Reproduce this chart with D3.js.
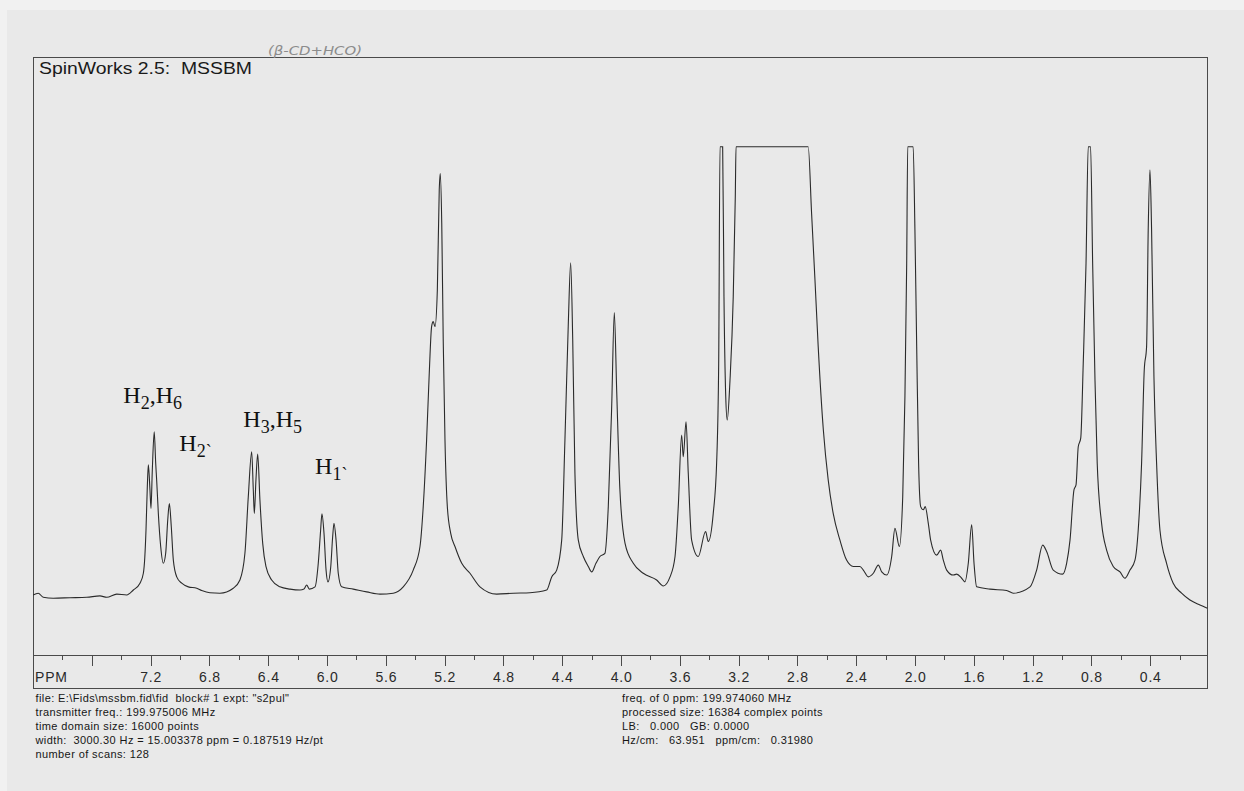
<!DOCTYPE html>
<html>
<head>
<meta charset="utf-8">
<style>
body { margin: 0; background: #e9e9e9; }
svg { display: block; }
text { white-space: pre; }
.frame { fill: none; stroke: #4a4a4a; stroke-width: 1; shape-rendering: crispEdges; }
.spectrum { fill: none; stroke: #2b2b2b; stroke-width: 1.1; }
.axis path, .axis line { fill: none; stroke: #4a4a4a; shape-rendering: crispEdges; }
.axis text, .ppm { font-family: Arial, "Liberation Sans", sans-serif; font-size: 14px; fill: #2a2a2a; letter-spacing: 0.8px; }
.title { font: 16px Arial, "Liberation Sans", sans-serif; fill: #1a1a1a; }
.info { font: 11px Arial, "Liberation Sans", sans-serif; fill: #161616; letter-spacing: 0.4px; }
.note { font: italic 13px "DejaVu Sans", sans-serif; fill: #8c8c8c; }
.peak-label { font-family: "Liberation Serif", "Times New Roman", serif; font-size: 24px; fill: #111; }
</style>
</head>
<body>
<svg width="1244" height="791"></svg>
<script src="https://cdn.jsdelivr.net/npm/d3@7"></script>
<script>

// spectrum trace (chemical shift in ppm, relative intensity, 100 = clipped)
var ppm = [
  8.000, 7.965, 7.931, 7.863, 7.749, 7.635, 7.545, 7.499, 7.431, 7.363, 7.318, 7.273, 7.250, 7.240,
  7.232, 7.223, 7.216, 7.205, 7.198, 7.189, 7.176, 7.166, 7.159, 7.148, 7.132, 7.114, 7.098, 7.084,
  7.073, 7.060, 7.046, 7.023, 6.989, 6.944, 6.887, 6.853, 6.797, 6.729, 6.638, 6.593, 6.559, 6.536,
  6.513, 6.502, 6.495, 6.484, 6.472, 6.457, 6.438, 6.416, 6.377, 6.321, 6.252, 6.184, 6.157, 6.139,
  6.121, 6.082, 6.060, 6.044, 6.035, 6.021, 6.007, 5.994, 5.975, 5.962, 5.953, 5.939, 5.924, 5.901,
  5.822, 5.731, 5.640, 5.550, 5.482, 5.414, 5.368, 5.346, 5.323, 5.305, 5.289, 5.278, 5.266, 5.250,
  5.237, 5.230, 5.220, 5.210, 5.198, 5.182, 5.159, 5.130, 5.084, 5.028, 4.960, 4.846, 4.733, 4.620,
  4.506, 4.472, 4.438, 4.404, 4.382, 4.359, 4.343, 4.329, 4.314, 4.291, 4.257, 4.223, 4.200, 4.171,
  4.144, 4.110, 4.087, 4.064, 4.046, 4.030, 4.008, 3.973, 3.917, 3.849, 3.758, 3.713, 3.667, 3.633,
  3.611, 3.588, 3.577, 3.558, 3.543, 3.520, 3.475, 3.425, 3.407, 3.373, 3.350, 3.336, 3.327, 3.309,
  3.300, 3.288, 3.278, 3.259, 3.237, 3.223, 3.218, 2.727, 2.704, 2.681, 2.659, 2.624, 2.591, 2.557,
  2.511, 2.466, 2.420, 2.375, 2.352, 2.318, 2.284, 2.250, 2.227, 2.193, 2.159, 2.137, 2.107, 2.084,
  2.069, 2.057, 2.050, 2.013, 2.001, 1.989, 1.976, 1.962, 1.944, 1.931, 1.910, 1.894, 1.853, 1.826,
  1.808, 1.785, 1.740, 1.717, 1.683, 1.661, 1.638, 1.615, 1.599, 1.581, 1.490, 1.377, 1.332, 1.218,
  1.173, 1.132, 1.105, 1.060, 0.996, 0.969, 0.946, 0.919, 0.905, 0.890, 0.873, 0.856, 0.837, 0.822,
  0.806, 0.792, 0.776, 0.761, 0.731, 0.697, 0.652, 0.606, 0.572, 0.538, 0.504, 0.482, 0.459, 0.441,
  0.425, 0.414, 0.402, 0.391, 0.375, 0.357, 0.334, 0.289, 0.244, 0.187, 0.130, 0.062, 0.012
];
var intensity = [
  1.1, 1.5, 0.6, 0.4, 0.5, 0.6, 0.9, 0.6, 1.3, 1.1, 2.2, 3.7, 5.9, 9.5,
  15.4, 25.0, 29.8, 24.3, 20.2, 28.7, 37.1, 30.2, 26.2, 19.1, 11.8, 8.1, 10.3, 17.7,
  21.3, 16.2, 8.8, 5.1, 3.7, 2.9, 2.6, 2.1, 1.6, 1.5, 2.6, 4.4, 10.3, 22.8,
  32.7, 24.3, 19.1, 26.5, 32.2, 22.1, 12.5, 7.4, 4.4, 2.9, 2.4, 2.2, 2.4, 3.3,
  2.4, 2.9, 8.1, 15.4, 19.0, 14.7, 6.6, 4.0, 7.4, 14.0, 16.9, 13.2, 5.9, 2.9,
  2.4, 1.8, 1.3, 1.5, 2.9, 6.6, 11.8, 20.6, 35.3, 50.0, 60.3, 61.4, 60.3, 68.4,
  90.5, 94.1, 83.1, 57.4, 35.3, 20.6, 14.7, 11.8, 8.1, 5.9, 2.9, 1.3, 1.5, 1.6,
  2.2, 5.1, 6.6, 13.2, 35.3, 61.0, 74.4, 57.4, 28.0, 13.2, 9.6, 7.4, 6.2, 8.1,
  9.6, 10.3, 20.6, 42.6, 63.4, 46.3, 24.3, 12.5, 8.1, 5.9, 4.4, 3.1, 5.1, 9.6,
  20.6, 36.4, 31.6, 39.3, 28.0, 13.2, 9.6, 15.1, 12.9, 19.1, 30.2, 52.2, 100, 100,
  66.9, 44.9, 39.7, 48.5, 66.9, 89.0, 100, 100, 85.3, 70.6, 55.9, 37.5, 26.5, 19.1,
  13.2, 8.8, 7.4, 7.4, 6.6, 5.1, 5.9, 7.7, 6.2, 5.5, 9.6, 15.8, 11.8, 22.8,
  44.9, 74.3, 100, 100, 81.6, 55.9, 30.2, 20.6, 19.9, 20.6, 16.9, 13.2, 9.9, 11.0,
  8.8, 6.6, 5.5, 5.7, 4.8, 4.0, 8.1, 16.6, 8.1, 2.9, 2.4, 2.1, 1.5, 2.9,
  6.6, 12.1, 10.7, 6.6, 5.7, 8.1, 13.2, 24.3, 25.4, 33.8, 35.7, 52.2, 74.3, 100,
  100, 74.3, 48.5, 30.2, 16.9, 11.0, 7.4, 6.2, 4.8, 6.6, 8.8, 15.4, 30.2, 50.7,
  55.9, 81.6, 94.9, 81.6, 49.3, 30.2, 15.4, 8.1, 3.7, 1.5, 0.0, -1.1, -1.8
];

// axis ticks
var majorTicks = [7.6, 7.2, 6.8, 6.4, 6.0, 5.6, 5.2, 4.8, 4.4, 4.0, 3.6, 3.2, 2.8, 2.4, 2.0, 1.6, 1.2, 0.8, 0.4];
var minorTicks = [7.8, 7.4, 7.0, 6.6, 6.2, 5.8, 5.4, 5.0, 4.6, 4.2, 3.8, 3.4, 3.0, 2.6, 2.2, 1.8, 1.4, 1.0, 0.6, 0.2];
var tickLabels = ["", "7.2", "6.8", "6.4", "6.0", "5.6", "5.2", "4.8", "4.4", "4.0", "3.6", "3.2", "2.8", "2.4", "2.0", "1.6", "1.2", "0.8", "0.4"];

// peak assignments: [main text, subscript] pieces, anchored in data units
var peakLabelParts = [
  [["H", "2"], [",H", "6"]],
  [["H", "2`"]],
  [["H", "3"], [",H", "5"]],
  [["H", "1`"]]
];
var peakLabelPpm = [7.386, 7.005, 6.570, 6.082];
var peakLabelLevel = [43.5, 32.9, 38.2, 27.7];

var titleText = "SpinWorks 2.5:  MSSBM";
var noteText = "(\u03b2-CD+HCO)";
var infoLeft = [
  "file: E:\\Fids\\mssbm.fid\\fid  block# 1 expt: \"s2pul\"",
  "transmitter freq.: 199.975006 MHz",
  "time domain size: 16000 points",
  "width:  3000.30 Hz = 15.003378 ppm = 0.187519 Hz/pt",
  "number of scans: 128"
];
var infoRight = [
  "freq. of 0 ppm: 199.974060 MHz",
  "processed size: 16384 complex points",
  "LB:   0.000   GB: 0.0000",
  "Hz/cm:   63.951   ppm/cm:   0.31980"
];

var svg = d3.select("svg"),
    frame = {left: 33.1, right: 1207.3, top: 57, bottom: 688},
    axisY = 655;

var x = d3.scaleLinear().domain([8.0, 0.012]).range([frame.left, frame.right]);
var y = d3.scaleLinear().domain([0, 100]).range([600, 146.7]);

var data = ppm.map(function(p, i) { return {ppm: p, value: intensity[i]}; });

// paper edge
svg.append("rect").attr("width", 1244).attr("height", 10).attr("fill", "#f1f1f1");
svg.append("rect").attr("width", 7).attr("height", 791).attr("fill", "#f1f1f1");

svg.append("rect")
    .attr("class", "frame")
    .attr("x", frame.left)
    .attr("y", frame.top)
    .attr("width", frame.right - frame.left)
    .attr("height", frame.bottom - frame.top);

var line = d3.line()
    .curve(d3.curveMonotoneX)
    .x(function(d) { return x(d.ppm); })
    .y(function(d) { return y(d.value); });

svg.append("path")
    .datum(data)
    .attr("class", "spectrum")
    .attr("d", line);

var xAxis = d3.axisBottom(x)
    .tickValues(majorTicks)
    .tickSize(11)
    .tickSizeOuter(0)
    .tickPadding(6)
    .tickFormat(function(d, i) { return tickLabels[i]; });

var xAxisMinor = d3.axisBottom(x)
    .tickValues(minorTicks)
    .tickSize(5)
    .tickSizeOuter(0)
    .tickFormat("");

svg.append("g")
    .attr("class", "axis")
    .attr("transform", "translate(0," + axisY + ")")
    .call(xAxis);

svg.append("g")
    .attr("class", "axis minor")
    .attr("transform", "translate(0," + axisY + ")")
    .call(xAxisMinor)
    .select(".domain").remove();

svg.append("text")
    .attr("class", "ppm")
    .attr("x", 35)
    .attr("y", 681.7)
    .text("PPM");

svg.append("text")
    .attr("class", "title")
    .attr("x", 39)
    .attr("y", 74)
    .attr("textLength", 213)
    .attr("lengthAdjust", "spacingAndGlyphs")
    .text(titleText);

svg.append("text")
    .attr("class", "note")
    .attr("x", 268)
    .attr("y", 55)
    .attr("textLength", 94)
    .attr("lengthAdjust", "spacingAndGlyphs")
    .text(noteText);

// peak labels with subscripts
peakLabelParts.forEach(function(parts, i) {
  var t = svg.append("text")
      .attr("class", "peak-label")
      .attr("x", x(peakLabelPpm[i]))
      .attr("y", y(peakLabelLevel[i]));
  parts.forEach(function(p, j) {
    t.append("tspan").attr("dy", j > 0 ? -6 : 0).text(p[0]);
    t.append("tspan").attr("dy", 6).attr("font-size", 18).text(p[1]);
  });
});

svg.selectAll(".info-left")
    .data(infoLeft)
  .enter().append("text")
    .attr("class", "info info-left")
    .attr("x", 35.5)
    .attr("y", function(d, i) { return 702 + i * 14; })
    .text(function(d) { return d; });

svg.selectAll(".info-right")
    .data(infoRight)
  .enter().append("text")
    .attr("class", "info info-right")
    .attr("x", 622)
    .attr("y", function(d, i) { return 702 + i * 14; })
    .text(function(d) { return d; });

</script>
</body>
</html>
